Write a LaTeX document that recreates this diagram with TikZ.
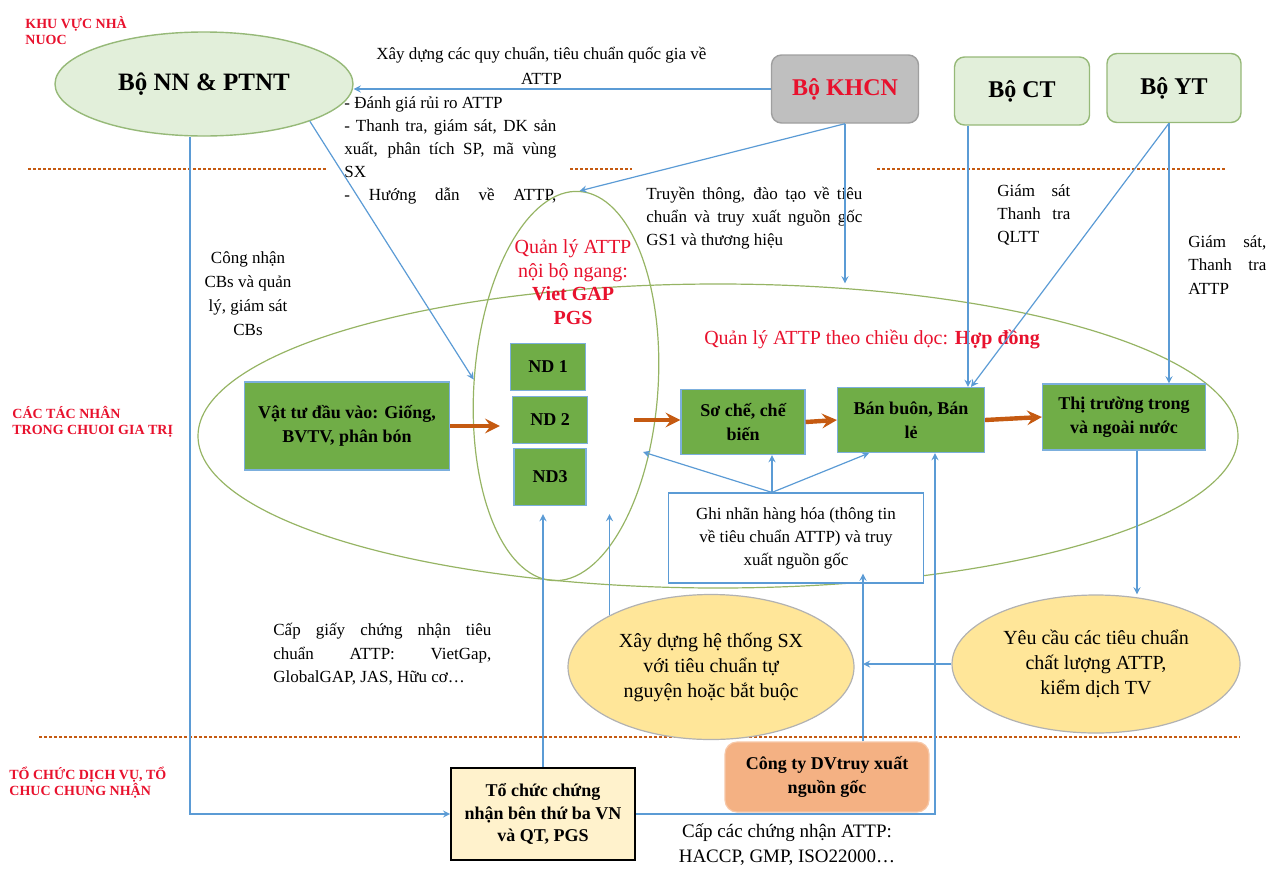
\documentclass[tikz,border=0pt]{standalone}
\usepackage{fontspec}
\setmainfont{Liberation Serif}
\usepackage{tikz}
\usetikzlibrary{shapes.geometric, arrows}
\hyphenpenalty=10000
\exhyphenpenalty=10000
\definecolor{lineblue}{RGB}{91,155,213}
\definecolor{boxgreen}{RGB}{112,173,71}
\definecolor{palegreen}{RGB}{226,239,218}
\definecolor{edgegreen}{RGB}{150,185,120}
\definecolor{ringgreen}{RGB}{150,180,100}
\definecolor{gold}{RGB}{255,230,153}
\definecolor{cream}{RGB}{255,242,204}
\definecolor{salmon}{RGB}{244,177,131}
\definecolor{rust}{RGB}{197,90,17}
\definecolor{alert}{RGB}{232,17,45}
\tikzstyle{arrow} = [draw=lineblue, line width=0.6pt, ->, >=stealth]
\tikzstyle{flow} = [draw=rust, line width=2.2pt, ->, >=stealth]
\tikzstyle{divider} = [draw=rust, line width=0.7pt, dash pattern=on 1.5pt off 1pt]
\tikzstyle{zone} = [anchor=north west, inner sep=0pt, align=left, text=alert, font=\bfseries\fontsize{7}{8}\selectfont]
\tikzstyle{ministry} = [rectangle, rounded corners=5pt, fill=palegreen, draw=edgegreen, line width=0.7pt, font=\bfseries\fontsize{12}{14}\selectfont]
\tikzstyle{ring} = [ellipse, draw=ringgreen, line width=0.6pt, inner sep=0pt]
\tikzstyle{actor} = [rectangle, fill=boxgreen, draw=lineblue!80, line width=0.6pt, align=center, font=\bfseries\fontsize{9}{12}\selectfont]
\tikzstyle{goal} = [ellipse, fill=gold, draw=gray!60, line width=0.6pt, align=center, font=\fontsize{10}{12.5}\selectfont]
\tikzstyle{note} = [inner sep=0pt, font=\fontsize{8.5}{11.5}\selectfont]
\tikzstyle{redtext} = [inner sep=0pt, align=center, text=alert, font=\fontsize{10}{11.75}\selectfont]

\begin{document}
\begin{tikzpicture}[x=0.5pt, y=-0.5pt]
    \useasboundingbox (0,0) rectangle (1268,868);

    \node (zstate) [zone] at (25,16) {KHU VỰC NHÀ\\NUOC};
    \node (zactor) [zone] at (12,406) {CÁC TÁC NHÂN\\TRONG CHUOI GIA TRỊ};
    \node (zservice) [zone] at (9,767) {TỔ CHỨC DỊCH VỤ, TỔ\\CHUC CHUNG NHẬN};

    \draw [divider] (28,169) -- (328,169);
    \draw [divider] (570,169) -- (632,169);
    \draw [divider] (877,169) -- (1225,169);
    \draw [divider] (39,737) -- (1240,737);

    \node (nn) [ellipse, fill=palegreen, draw=edgegreen, line width=0.7pt, minimum width=149pt, minimum height=52pt, font=\bfseries\fontsize{12.5}{14}\selectfont] at (204,84) {Bộ NN \& PTNT};
    \node (khcn) [ministry, fill=gray!50, draw=gray!75, text=alert, minimum width=73.5pt, minimum height=34pt] at (845,89) {Bộ KHCN};
    \node (ct) [ministry, minimum width=67.5pt, minimum height=34pt] at (1022,91) {Bộ CT};
    \node (yt) [ministry, minimum width=67pt, minimum height=34.5pt] at (1174,88) {Bộ YT};

    \node (doc) [ring, minimum width=520pt, minimum height=152pt] at (718,436) {};
    \node (ngang) [ring, rotate=-4, minimum width=92pt, minimum height=195pt] at (566,386) {};

    \node (vattu) [actor, minimum width=102.5pt, minimum height=44pt] at (347,426) {Vật tư đầu vào: Giống,\\BVTV, phân bón};
    \node (nd1) [actor, minimum width=37.5pt, minimum height=23.5pt] at (548,367) {ND 1};
    \node (nd2) [actor, minimum width=37.5pt, minimum height=23.5pt] at (550,420) {ND 2};
    \node (nd3) [actor, minimum width=36pt, minimum height=28.5pt] at (550,477) {ND3};
    \node (soche) [actor, minimum width=62pt, minimum height=32.5pt] at (743,422) {Sơ chế, chế\\biến};
    \node (banbuon) [actor, minimum width=73.5pt, minimum height=32.5pt] at (911,420) {Bán buôn, Bán\\lẻ};
    \node (thitruong) [actor, minimum width=81.5pt, minimum height=33pt] at (1124,417) {Thị trường trong\\và ngoài nước};

    \node (ngangtext) [redtext] at (573,282) {Quản lý ATTP\\nội bộ ngang:\\\textbf{Viet GAP}\\\textbf{PGS}};
    \node (doctext) [redtext] at (872,339) {Quản lý ATTP theo chiều dọc: \textbf{Hợp đồng}};

    \node (dgrr) [note, anchor=north west, text width=106pt, align=justify] at (344,96) {- Đánh giá rủi ro ATTP\\- Thanh tra, giám sát, DK sản xuất, phân tích SP, mã vùng\linebreak SX\\\makebox[\linewidth][s]{- Hướng dẫn về ATTP,}};
    \node (truyen) [note, anchor=north west, text width=108pt, align=justify] at (646,187) {Truyền thông, đào tạo về tiêu\linebreak chuẩn và truy xuất nguồn gốc\linebreak GS1 và thương hiệu};
    \node (conhan) [note, align=center, font=\fontsize{8.5}{12}\selectfont] at (248,294) {Công nhận\\CBs và quản\\lý, giám sát\\CBs};
    \node (gsat) [note, anchor=north west, text width=36.5pt, align=justify] at (997,184) {Giám sát\linebreak Thanh tra\linebreak QLTT};
    \node (ytsat) [note, anchor=north west, text width=39pt, align=justify, font=\fontsize{8.5}{11.75}\selectfont] at (1188,235) {Giám sát,\linebreak Thanh tra\linebreak ATTP};

    \node (ghinhan) [rectangle, fill=white, draw=lineblue, line width=0.6pt, align=center, minimum width=127.5pt, minimum height=45pt, font=\fontsize{8.5}{11.5}\selectfont] at (796,538) {Ghi nhãn hàng hóa (thông tin\\về tiêu chuẩn ATTP) và truy\\xuất nguồn gốc};
    \node (xaydung) [goal, minimum width=143pt, minimum height=72.5pt] at (711,667) {Xây dựng hệ thống SX\\với tiêu chuẩn tự\\nguyện hoặc bắt buộc};
    \node (yeucau) [goal, minimum width=144pt, minimum height=69pt] at (1096,664) {Yêu cầu các tiêu chuẩn\\chất lượng ATTP,\\kiểm dịch TV};
    \node (ctydv) [rectangle, rounded corners=6pt, fill=salmon, draw=salmon!70!white, line width=0.6pt, align=center, minimum width=102pt, minimum height=35pt, font=\bfseries\fontsize{9}{12}\selectfont] at (827,777) {Công ty DVtruy xuất\\nguồn gốc};
    \node (tcn) [rectangle, fill=cream, draw=black, line width=0.8pt, align=center, minimum width=92pt, minimum height=46pt, font=\bfseries\fontsize{9}{11.25}\selectfont] at (543,814) {Tổ chức chứng\\nhận bên thứ ba VN\\và QT, PGS};
    \node (capgiay) [note, anchor=north west, text width=109pt, align=justify, font=\fontsize{8.5}{11.75}\selectfont] at (273,623) {Cấp giấy chứng nhận tiêu\linebreak chuẩn ATTP: VietGap,\linebreak GlobalGAP, JAS, Hữu cơ…};
    \node (capcac) [align=center, inner sep=0pt, font=\fontsize{9.5}{12.5}\selectfont] at (787,845) {Cấp các chứng nhận ATTP:\\HACCP, GMP, ISO22000…};

    \draw [flow, shorten >=6pt] (vattu.east) -- (vattu.east -| nd2.west);
    \draw [flow, shorten <=23pt] (nd2.east) -- (nd2.east -| soche.west);
    \draw [flow] (soche.east) -- (banbuon.west);
    \draw [flow] (banbuon.east) -- (thitruong.west);

    \draw [arrow] (khcn.west) -- node[note, above, pos=0.55, inner sep=2pt, align=center, font=\fontsize{8.5}{12.5}\selectfont] {Xây dựng các quy chuẩn, tiêu chuẩn quốc gia về\\ATTP} (khcn.west -| nn.east);
    \draw [arrow] (khcn.south) -- (ngang.north);
    \draw [arrow] (khcn.south) -- (khcn.south |- doc.north);
    \draw [arrow] (nn.south east) -- (ngang.west);
    \draw [arrow] ([xshift=-7pt]nn.south) |- (tcn.west);
    \draw [arrow] ([xshift=-27pt]ct.south) coordinate (ctfoot) -- (ctfoot |- banbuon.north);
    \draw [arrow] ([xshift=-2.5pt]yt.south) -- ([xshift=30pt]banbuon.north);
    \draw [arrow] ([xshift=-2.5pt]yt.south) coordinate (ytfoot) -- (ytfoot |- thitruong.north);
    \draw [arrow] ([xshift=6.5pt]thitruong.south) coordinate (ttfoot) -- (ttfoot |- yeucau.north);

    \coordinate (ctyup) at ([xshift=18pt]ctydv.north);
    \draw [arrow] (yeucau.west) -- (yeucau.west -| ctyup);
    \draw [arrow, shorten >=-5pt] (ctyup) -- (ctyup |- ghinhan.south);
    \draw [arrow, shorten >=4pt] (tcn.north) -- (tcn.north |- nd3.south);
    \draw [arrow] (tcn.east) -| ([xshift=12pt]banbuon.south);
    \draw [arrow, shorten >=4pt] (xaydung.north west) -- (xaydung.north west |- nd3.south);

    \coordinate (gtop) at ([xshift=-12pt]ghinhan.north);
    \coordinate (ngin) at (643,452);
    \draw [arrow] (gtop) -- (ngin);
    \draw [arrow] (gtop) -- (gtop |- soche.south);
    \draw [arrow] (gtop) -- ([xshift=-21pt]banbuon.south);
\end{tikzpicture}
\end{document}
